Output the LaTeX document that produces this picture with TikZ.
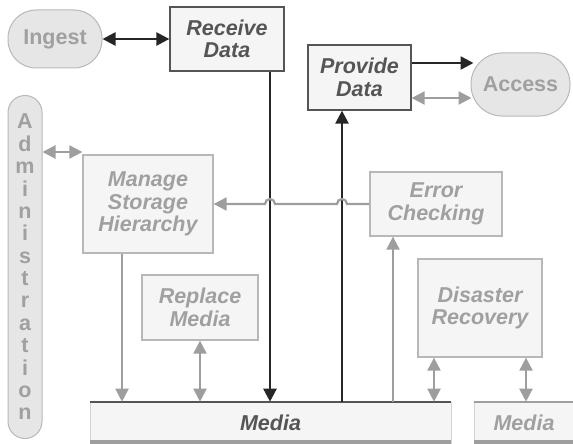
\documentclass[tikz,border=0pt]{standalone}
\usepackage{fontspec}
\setmainfont{Liberation Sans}
\usetikzlibrary{arrows.meta}
\definecolor{dk}{HTML}{555555}
\definecolor{ln}{HTML}{262626}
\definecolor{gr}{HTML}{9E9E9E}
\definecolor{gt}{HTML}{A0A0A0}
\definecolor{bx}{HTML}{F5F5F5}
\definecolor{pl}{HTML}{E6E6E6}
\definecolor{bd}{HTML}{B8B8B8}
\begin{document}
\begin{tikzpicture}[x=1pt,y=-1pt,
  >={Triangle[length=13pt,width=13pt]},
  lbl/.style={font=\fontsize{21.5}{22.5}\selectfont\bfseries\itshape, align=center, inner sep=0pt},
  darkbox/.style={lbl, draw=dk, line width=1.3pt, fill=bx, text=dk},
  graybox/.style={lbl, draw=bd, line width=1.3pt, fill=bx, text=gt},
  pill/.style={font=\fontsize{21.5}{22.4}\selectfont\bfseries, align=center, inner sep=0pt,
    draw=bd, line width=1pt, fill=pl, text=gt},
  mediabox/.style={lbl, draw=bd!60, line width=0.6pt, fill=bx},
  dkarrow/.style={draw=ln, line width=2.4pt},
  grarrow/.style={draw=gr, line width=2.2pt}
]
\useasboundingbox (0,0) rectangle (573,444);

% nodes
\node[pill, minimum width=94, minimum height=58, rounded corners=28] (ing) at (55,39) {Ingest};
\node[darkbox, minimum width=114, minimum height=64] (rec) at (227,39) {Receive\\Data};
\node[darkbox, minimum width=103, minimum height=65] (prov) at (359.5,77.5) {Provide\\Data};
\node[pill, minimum width=99, minimum height=63, rounded corners=31] (acc) at (520.5,84.5) {Access};
\node[pill, minimum width=34, minimum height=343, rounded corners=17] (adm) at (25,267)
  {A\\d\\m\\i\\n\\i\\s\\t\\r\\a\\t\\i\\o\\n};
\node[graybox, minimum width=130, minimum height=98] (man) at (148,204) {Manage\\Storage\\Hierarchy};
\node[graybox, minimum width=132, minimum height=64] (err) at (436,204) {Error\\Checking};
\node[graybox, minimum width=116, minimum height=65] (rep) at (200,307.5) {Replace\\Media};
\node[graybox, minimum width=124, minimum height=98] (dis) at (480,308) {Disaster\\Recovery};
\node[mediabox, minimum width=361, minimum height=42, text=dk] (med) at (270.5,423) {Media};
\node[mediabox, minimum width=100, minimum height=42, text=gt] (med2) at (524,423) {Media};

% media edges
\draw[dk, line width=1.6pt] (med.north west) -- (med.north east);
\draw[gr, line width=4pt] ([yshift=2pt]med.south west) -- ([yshift=2pt]med.south east);
\draw[gr, line width=1.6pt] (med2.north west) -- (med2.north east);
\draw[gr, line width=4pt] ([yshift=2pt]med2.south west) -- ([yshift=2pt]med2.south east);

% helper coordinates
\coordinate (xr) at (270,0);
\coordinate (xp) at (342,0);
\coordinate (xm) at (122,0);
\coordinate (xe) at (393,0);
\coordinate (xd1) at (434,0);
\coordinate (xd2) at (526,0);
\coordinate (ya) at (0,63);
\coordinate (yb) at (0,98);
\coordinate (yadm) at (0,152);

% connectors
\draw[dkarrow,<->] (ing.east) -- (rec.west);
\draw[dkarrow,->] (rec.south -| xr) -- (med.north -| xr);
\draw[dkarrow,->] (med.north -| xp) -- (prov.south -| xp);
\draw[dkarrow,->] (prov.east |- ya) -- ([xshift=3pt]acc.west |- ya);
\draw[grarrow,<->] (prov.east |- yb) -- ([xshift=1pt]acc.west |- yb);
\draw[grarrow,<->] (adm.east |- yadm) -- (man.west |- yadm);
\draw[grarrow,->] (err.west) -- ([xshift=5pt]err.west -| xp)
   arc[start angle=0, end angle=-180, radius=5]
   -- ([xshift=5pt]err.west -| xr)
   arc[start angle=0, end angle=-180, radius=5]
   -- (man.east);
\draw[grarrow,->] (man.south -| xm) -- (med.north -| xm);
\draw[grarrow,<->] (rep.south) -- (med.north -| rep.south);
\draw[grarrow,->] (med.north -| xe) -- (err.south -| xe);
\draw[grarrow,<->] (dis.south -| xd1) -- (med.north -| xd1);
\draw[grarrow,<->] (dis.south -| xd2) -- (med2.north -| xd2);
\end{tikzpicture}
\end{document}
